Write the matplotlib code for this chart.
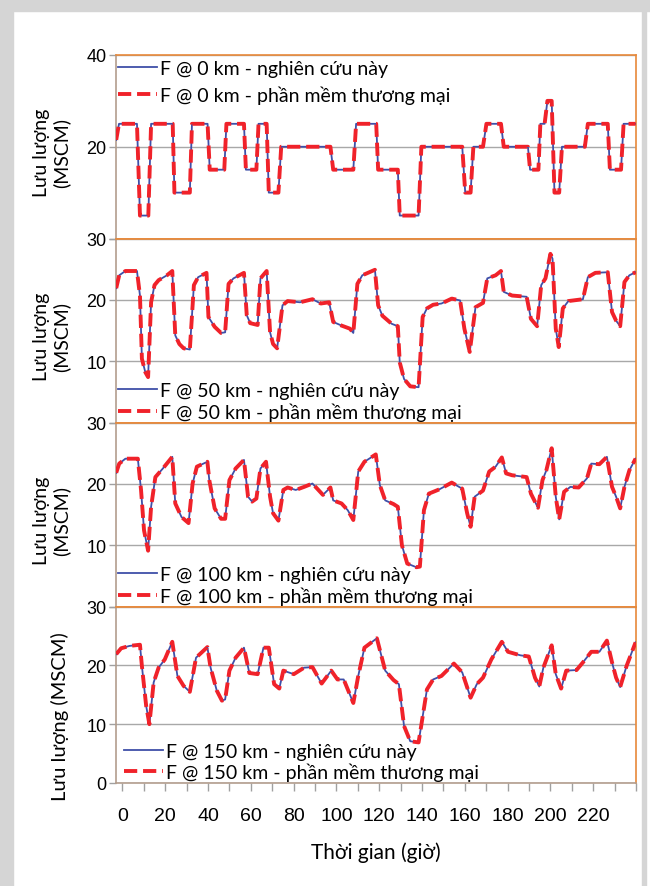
import numpy as np
import matplotlib
matplotlib.use('Agg')
import matplotlib.pyplot as plt
from matplotlib.patches import Rectangle

# flow rate (MSCM), time in hours
# the two models overlap almost exactly, so one series per location is used for both
t_0km = [-2.9, -1.6, 6.8, 8.2, 12.1, 13.4, 23.5, 24.3, 31.5, 32.5, 39.8, 40.8, 47.6, 48.6,
         56.8, 57.7, 62.6, 63.6, 67.4, 68.4, 72.9, 74.2, 97.2, 98.5, 107.9, 109.2, 118.6,
         119.5, 128.7, 129.6, 138.4, 139.7, 158.8, 160.2, 162.7, 164.0, 168.5, 170.1, 176.9,
         178.2, 189.5, 190.5, 194.4, 195.3, 197.3, 198.6, 200.6, 201.9, 204.1, 205.4, 216.1,
         217.5, 226.8, 227.8, 233.0, 234.2, 239.8]
f_0km = [21.5, 25, 25, 5, 5, 25, 25, 10, 10, 25, 25, 15, 15, 25,
         25, 15, 15, 25, 25, 10, 10, 20, 20, 15, 15, 25, 25,
         15, 15, 5, 5, 20, 20, 10, 10, 20, 20, 25, 25,
         20, 20, 15, 15, 25, 25, 30, 30, 10, 10, 20, 20,
         25, 25, 15, 15, 25, 25]

t_50km = [-2.9, -1.5, 1.4, 6.8, 8.2, 9.1, 10.7, 12.0, 13.4, 15.0, 16.9, 20.8, 23.3, 24.7,
          26.6, 28.6, 31.5, 33.4, 35.4, 39.3, 40.2, 43.1, 46.1, 48.0, 49.6, 51.9, 56.8, 58.1,
          59.7, 63.2, 64.5, 67.4, 69.0, 70.4, 72.3, 74.8, 77.2, 83.0, 88.8, 92.7, 96.6, 98.5,
          102.4, 106.3, 107.9, 109.8, 112.1, 118.0, 119.5, 121.5, 125.8, 128.7, 129.6, 131.6,
          134.5, 138.4, 140.3, 142.3, 145.2, 149.1, 153.9, 157.8, 159.8, 162.3, 163.7, 165.0,
          168.5, 170.5, 174.4, 176.9, 178.2, 182.1, 188.9, 190.9, 193.8, 195.7, 197.7, 200.0,
          201.0, 202.5, 203.9, 205.8, 208.4, 215.2, 217.5, 221.0, 226.8, 228.8, 230.7, 232.6,
          234.6, 236.9, 239.8]
f_50km = [21.9, 24.0, 24.7, 24.7, 20.7, 10.4, 8.2, 7.4, 19.6, 22.4, 23.2, 24.0, 24.7, 14.2,
          12.8, 12.1, 11.9, 22.4, 23.7, 24.4, 17.2, 15.6, 14.6, 14.7, 22.6, 23.5, 24.4, 17.5,
          16.2, 15.9, 23.5, 24.7, 14.7, 12.8, 12.1, 19.1, 19.8, 19.6, 20.1, 19.4, 19.6, 16.4,
          15.8, 15.3, 14.6, 22.6, 24.0, 24.9, 19.1, 17.4, 16.1, 15.7, 9.8, 7.1,
          5.9, 5.75, 17.2, 18.6, 19.2, 19.4, 20.2, 19.9, 15.3, 11.5, 15.3, 18.8,
          19.5, 23.5, 24.0, 24.7, 21.3, 20.7, 20.5, 16.9, 15.7, 22.4, 23.5, 27.5,
          26.7, 15.3, 12.3, 18.6, 19.8, 20.1, 23.7, 24.4, 24.5, 18.0, 16.6, 15.7,
          22.9, 24.0, 24.5]

t_100km = [-2.9, -1.5, 1.4, 7.2, 8.7, 10.1, 12.0, 13.4, 15.4, 18.9, 23.3, 24.7, 27.6, 30.9,
           32.8, 34.8, 39.7, 40.6, 43.1, 46.1, 48.0, 50.0, 52.9, 56.8, 58.7, 60.6, 62.6, 64.5,
           67.1, 69.0, 70.4, 72.9, 75.2, 77.2, 81.0, 84.9, 88.8, 93.7, 97.2, 98.5, 102.4, 105.3,
           107.9, 110.2, 113.1, 118.4, 120.3, 122.8, 126.7, 128.7, 130.6, 133.1, 137.4, 139.0,
           140.9, 143.2, 148.1, 153.9, 158.8, 161.1, 162.7, 164.6, 168.5, 171.4, 174.4, 177.3,
           179.3, 182.1, 188.9, 190.9, 194.2, 196.3, 198.1, 200.6, 202.5, 204.1, 206.4, 209.3,
           213.2, 217.1, 219.1, 222.9, 226.4, 228.8, 230.7, 232.6, 234.6, 236.9, 239.8]
f_100km = [21.8, 23.3, 24.1, 24.1, 19.0, 12.4, 9.1, 16.25, 21.1, 22.5, 24.4, 16.8, 14.6, 13.6,
           20.05, 22.8, 23.6, 20.6, 16.0, 14.3, 14.3, 20.6, 22.5, 23.9, 17.9, 17.1, 17.6, 22.5,
           23.6, 17.9, 15.2, 14.0, 19.0, 19.4, 19.0, 19.5, 20.05, 18.2, 19.4, 17.3, 16.8, 15.7,
           14.1, 22.0, 23.6, 24.8, 19.8, 17.3, 16.7, 16.25, 10.0, 7.0, 6.4, 6.5,
           15.7, 18.4, 19.1, 20.2, 19.2, 15.2, 13.0, 17.9, 18.9, 22.0, 22.8, 24.3,
           21.7, 21.4, 21.1, 18.4, 16.1, 20.6, 22.2, 25.8, 17.9, 14.2, 18.7, 19.5,
           19.4, 20.9, 23.3, 23.2, 24.4, 19.5, 17.9, 16.0, 19.5, 22.2, 24.1]

t_150km = [-2.9, -0.6, 3.3, 8.2, 9.1, 11.1, 12.6, 14.6, 16.9, 19.8, 23.3, 25.7, 28.6, 31.5,
           34.4, 39.7, 41.2, 44.1, 46.5, 48.0, 50.0, 52.9, 56.8, 59.3, 63.2, 65.9, 68.4, 70.9,
           73.3, 75.2, 80.1, 84.9, 88.8, 93.1, 97.6, 100.5, 103.4, 107.9, 110.2, 113.1, 118.9,
           122.8, 126.7, 129.2, 131.6, 134.5, 138.4, 142.3, 145.2, 149.1, 154.9, 158.8, 162.7,
           165.6, 168.5, 172.4, 177.3, 180.2, 186.0, 189.9, 192.8, 194.8, 196.7, 200.6, 202.5,
           205.0, 207.4, 212.2, 215.2, 219.1, 222.9, 226.4, 228.8, 230.7, 232.6, 235.6, 239.8]
f_150km = [21.9, 22.9, 23.3, 23.5, 19.9, 13.1, 10.0, 17.1, 19.6, 21.0, 24.0, 18.2, 16.5, 15.5,
           21.3, 23.1, 19.6, 15.7, 14.0, 14.2, 19.1, 21.3, 23.0, 18.7, 18.5, 23.0, 23.0, 16.8,
           16.05, 19.1, 18.5, 19.6, 19.7, 16.9, 19.1, 17.6, 17.6, 13.6, 18.2, 23.0, 24.6,
           19.1, 17.5, 16.8, 9.7, 7.1, 6.9, 15.9, 17.6, 18.2, 20.3, 18.8, 14.5,
           16.8, 17.9, 21.0, 24.0, 22.3, 21.7, 21.5, 17.9, 16.4, 19.6, 23.4, 18.5,
           16.05, 19.1, 19.2, 20.5, 22.3, 22.3, 24.2, 20.5, 17.9, 16.3, 19.9, 23.9]

distances = ['0', '50', '100', '150']
times = [t_0km, t_50km, t_100km, t_150km]
flows = [f_0km, f_50km, f_100km, f_150km]
y_tops = [40, 30, 30, 30]
y_steps = [20, 10, 10, 10]

blue = '#3f4fa8'
red = '#f0222a'
orange = '#e8893a'
tan = '#b39d8d'
grid_gray = '#a8a8a8'
txt_fonts = ['Lato', 'Noto Sans', 'DejaVu Sans']
num_fonts = ['Liberation Sans', 'DejaVu Sans']

fig = plt.figure(figsize=(6.5, 8.87), dpi=100)
W, H = 650.0, 887.0

# grey outer frame (left, top, right - open at the bottom)
fig.patches.append(Rectangle((0, 0), 13/W, 1, transform=fig.transFigure, color='#d5d5d5', zorder=0))
fig.patches.append(Rectangle((0, 1-12/H), 1, 12/H, transform=fig.transFigure, color='#d5d5d5', zorder=0))
fig.patches.append(Rectangle((642/W, 0), 4/W, 1, transform=fig.transFigure, color='#d5d5d5', zorder=0))

# panel limits in pixels (top, bottom)
panels_px = [(56, 239.5), (239.5, 423.5), (423.5, 607.5), (607.5, 784)]
left_px, right_px = 116, 636

axes = []
for i, (top, bot) in enumerate(panels_px):
    ax = fig.add_axes([left_px/W, 1-bot/H, (right_px-left_px)/W, (bot-top)/H])
    axes.append(ax)
    d = distances[i]
    ax.plot(times[i], flows[i], color=blue, lw=1.3, zorder=3,
            label='F @ %s km - nghiên cứu này' % d)
    ax.plot(times[i], flows[i], color=red, lw=2.8, dashes=(3.4, 1.5), zorder=4,
            label='F @ %s km - phần mềm thương mại' % d)

    ax.set_xlim(-3, 240)
    ax.set_ylim(0, y_tops[i])
    yt = np.arange(0, y_tops[i]+1, y_steps[i])
    ax.set_yticks(yt)
    # the "0" of the upper panels sits under the "30" of the panel below
    ax.set_yticklabels([('' if (v == 0 and i < 3) else str(v)) for v in yt])
    for tl in ax.get_yticklabels():
        tl.set_family(num_fonts)
    ax.tick_params(axis='y', length=5, width=1, color='#a0a0a0', labelsize=13, pad=2)
    ax.grid(axis='y', color=grid_gray, lw=1, zorder=1)
    ax.set_axisbelow(True)

    ax.spines['top'].set_color(orange)
    ax.spines['right'].set_color(orange)
    ax.spines['left'].set_color(tan)
    ax.spines['bottom'].set_color(orange if i < 3 else tan)
    for s in ax.spines.values():
        s.set_linewidth(1.2)

    if i < 3:
        ax.tick_params(axis='x', bottom=False, labelbottom=False)
        ax.text(-0.123, 0.47, 'Lưu lượng\n(MSCM)', transform=ax.transAxes, rotation=90,
                ha='center', va='center', multialignment='center', fontsize=14,
                family=txt_fonts, linespacing=1.15)
    else:
        ticks = np.arange(0, 241, 10)
        ax.set_xticks(ticks)
        ax.set_xticklabels([str(t) if t % 20 == 0 and t < 240 else '' for t in ticks])
        for tl in ax.get_xticklabels():
            tl.set_family(num_fonts)
        ax.tick_params(axis='x', length=6, width=1, color='#a0a0a0', labelsize=14, pad=11)
        ax.text(-0.108, 0.38, 'Lưu lượng (MSCM)', transform=ax.transAxes, rotation=90,
                ha='center', va='center', fontsize=14.5, family=txt_fonts)
        ax.set_xlabel('Thời gian (giờ)', fontsize=15, family=txt_fonts, labelpad=13)

    if i == 0:
        leg = ax.legend(loc='upper left', bbox_to_anchor=(0.0, 0.985), frameon=False,
                        prop={'family': txt_fonts, 'size': 14}, handlelength=2.0,
                        handletextpad=0.15, labelspacing=0.45, borderpad=0.1, borderaxespad=0)
    else:
        x0 = 0.0 if i < 3 else 0.012
        leg = ax.legend(loc='lower left', bbox_to_anchor=(x0, 0.0), frameon=False,
                        prop={'family': txt_fonts, 'size': 14}, handlelength=2.0,
                        handletextpad=0.15, labelspacing=0.15, borderpad=0.1, borderaxespad=0)
    leg.set_zorder(5)

fig.savefig('out.png', dpi=100, facecolor='white')
